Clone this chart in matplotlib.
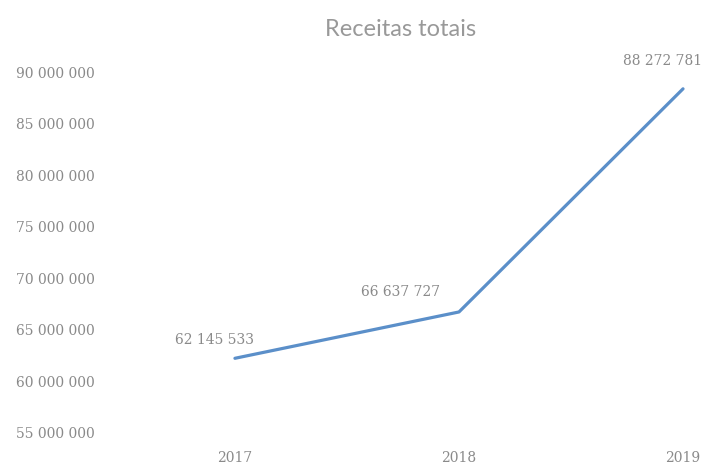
import matplotlib
matplotlib.use("Agg")
import matplotlib.pyplot as plt
from matplotlib.ticker import FuncFormatter

years = ["2017", "2018", "2019"]
receitas = [62145533, 66637727, 88272781]
y_ticks = [55000000, 60000000, 65000000, 70000000, 75000000, 80000000, 85000000, 90000000]

def fmt(v):
    return f"{int(v):,}".replace(",", " ")

fig = plt.figure(figsize=(7.07, 4.64), dpi=100)
ax = fig.add_axes([120/707, 1-433/464, 587/707, (433-72)/464])

x = list(range(len(years)))
ax.plot(x, receitas, color="#5b8fc9", lw=2.3, solid_capstyle="round")

ax.set_xlim(-0.513, 2.107)
ax.set_ylim(55000000, 90000000)
ax.set_yticks(y_ticks)
ax.yaxis.set_major_formatter(FuncFormatter(lambda v, p: fmt(v)))
ax.set_xticks(x)
ax.set_xticklabels(years)

grey = "#8a8a8a"
for lab in ax.get_yticklabels():
    lab.set_fontfamily("DejaVu Serif")
    lab.set_fontsize(10)
    lab.set_color(grey)
    lab.set_horizontalalignment("left")
for lab in ax.get_xticklabels():
    lab.set_fontfamily("DejaVu Serif")
    lab.set_fontsize(10)
    lab.set_color(grey)

ax.tick_params(axis="y", length=0, pad=75)
ax.tick_params(axis="x", length=0, pad=13)
for s in ax.spines.values():
    s.set_visible(False)

offsets = [(-15, 14), (-42, 15), (-15, 21)]
for xi, v, off in zip(x, receitas, offsets):
    ax.annotate(fmt(v), (xi, v), xytext=off, textcoords="offset points",
                ha="center", va="center", fontsize=10, color=grey,
                family="DejaVu Serif")

fig.text(401/707, 1-30/464, "Receitas totais", ha="center", va="center",
         fontsize=17, color="#999999", family="Lato")

fig.savefig("out.png", dpi=100)
